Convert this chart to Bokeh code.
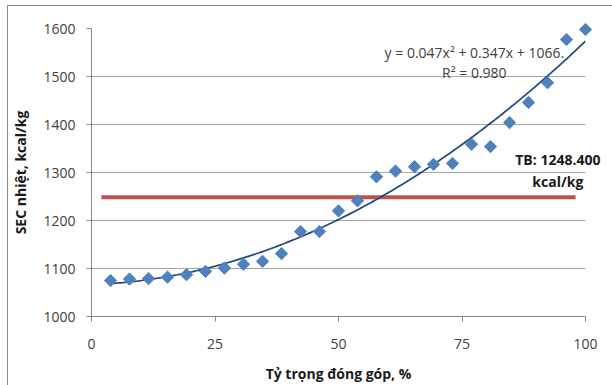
import numpy as np
from bokeh.plotting import figure
from bokeh.models import Range1d, FixedTicker
from bokeh.core.properties import value
from bokeh.embed import file_html
from bokeh.resources import INLINE

# ---- data ----
share = [3.85, 7.69, 11.54, 15.38, 19.23, 23.08, 26.92, 30.77, 34.62, 38.46,
         42.31, 46.15, 50.00, 53.85, 57.69, 61.54, 65.38, 69.23, 73.08, 76.92,
         80.77, 84.62, 88.46, 92.31, 96.15, 100.0]
sec = [1075, 1078, 1079, 1082, 1087, 1094, 1101, 1109, 1115, 1131,
       1177, 1177, 1220, 1241, 1291, 1303, 1312, 1317, 1319, 1359,
       1354, 1404, 1446, 1487, 1577, 1598]
x_ticks = [0, 25, 50, 75, 100]
y_ticks = [1000, 1100, 1200, 1300, 1400, 1500, 1600]
tb_value = 1248.4
tb_span = [2, 98]
eq_text = "y = 0.047x² + 0.347x + 1066."
r2_text = "R² = 0.980"
tb_text = "TB: 1248.400"
tb_unit = "kcal/kg"
x_label = "Tỷ trọng đóng góp, %"
y_label = "SEC nhiệt, kcal/kg"

FONT = "Open Sans"

p = figure(width=604, height=379, output_backend="svg", toolbar_location=None,
           x_range=Range1d(0, 100), y_range=Range1d(1000, 1600),
           min_border_left=79, min_border_top=22, min_border_right=27,
           min_border_bottom=68)
p.outline_line_color = None
p.background_fill_color = "white"
p.border_fill_color = "white"
p.styles = {"position": "absolute", "left": "8px", "top": "6px",
            "outline": "1px solid #8c8c8c"}

# grid
p.xgrid.grid_line_color = None
p.ygrid.ticker = FixedTicker(ticks=y_ticks)
p.ygrid.grid_line_color = "#A6A6A6"
p.ygrid.grid_line_width = 1

# axes
for ax in (p.xaxis[0], p.yaxis[0]):
    ax.axis_line_color = "#868686"
    ax.major_tick_line_color = "#868686"
    ax.major_tick_out = 5
    ax.major_tick_in = 0
    ax.minor_tick_line_color = None
    ax.major_label_text_font = FONT
    ax.major_label_text_font_size = "14px"
    ax.major_label_text_color = "#404040"
    ax.axis_label_text_font = FONT
    ax.axis_label_text_font_size = "14px"
    ax.axis_label_text_font_style = "bold"
    ax.axis_label_text_color = "#1a1a1a"

p.xaxis.ticker = FixedTicker(ticks=x_ticks)
p.yaxis.ticker = FixedTicker(ticks=y_ticks)
p.xaxis.major_label_standoff = 17
p.yaxis.major_label_standoff = 11
p.xaxis.axis_label = x_label
p.yaxis.axis_label = y_label
p.xaxis.axis_label_standoff = 12
p.yaxis.axis_label_standoff = 10

# average line
p.line(tb_span, [tb_value, tb_value], line_color="#C0504D", line_width=4)

# polynomial trend (fitted from data)
coef = np.polyfit(share, sec, 2)
xs = np.linspace(share[0], share[-1], 200)
p.line(xs, np.polyval(coef, xs), line_color="#1F4A7D", line_width=1.75)

# data points
p.scatter(share, sec, marker="square", angle=np.pi / 4, size=8.7,
          fill_color="#4F81BD", line_color="#4F81BD", level="overlay")

# texts (glyphs at overlay level so they are not clipped by the frame)
def add_text(x, y, text, bold=False, color="#404040"):
    p.text(x=[x], y=[y], text=[text], text_align="center",
           text_baseline="middle", text_font=value(FONT),
           text_font_size="14px",
           text_font_style="bold" if bold else "normal",
           text_color=color, level="overlay")

add_text(77.5, 1550, eq_text)
add_text(77.5, 1508, r2_text)
add_text(94.4, 1328, tb_text, bold=True, color="#1a1a1a")
add_text(94.4, 1282, tb_unit, bold=True, color="#1a1a1a")

open("out.html", "w").write(file_html(p, INLINE))
